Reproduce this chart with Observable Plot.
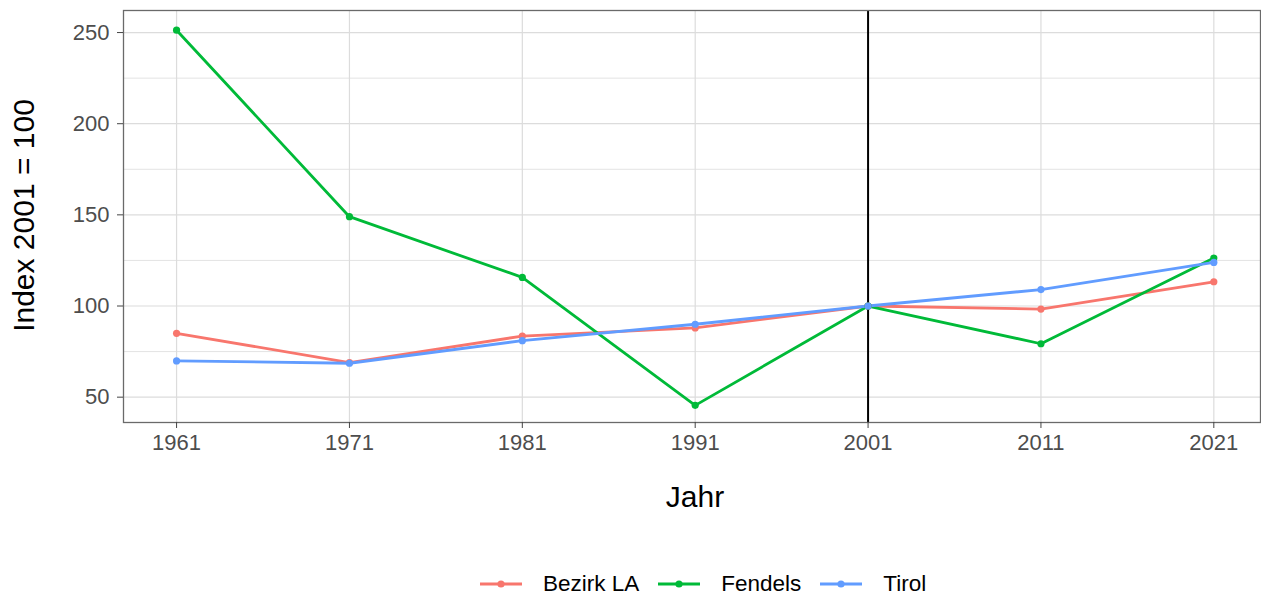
<!DOCTYPE html>
<html>
<head>
<meta charset="utf-8">
<script src="https://cdn.jsdelivr.net/npm/d3@7"></script>
<script src="https://cdn.jsdelivr.net/npm/@observablehq/plot@0.6"></script>
<style>
  html, body { margin: 0; padding: 0; background: #fff; }
  body { position: relative; width: 1261px; height: 596px; overflow: hidden; font-family: "Liberation Sans", Arial, sans-serif; }
  #legend { position: absolute; left: 480px; top: 571px; height: 26px; display: flex; align-items: center; font-size: 22.5px; color: #000; }
  .item { display: flex; align-items: center; margin-right: 19px; }
  .item svg { margin-right: 21px; }
</style>
</head>
<body>
<div id="chart"></div>
<div id="legend"></div>
<script>
const years = [1961, 1971, 1981, 1991, 2001, 2011, 2021];
const seriesNames = ["Bezirk LA", "Fendels", "Tirol"];
const bezirkLA = [85.0, 69.0, 83.5, 88.0, 100, 98.3, 113.3];
const fendels = [251.3, 149.0, 115.7, 45.5, 100, 79.3, 126.3];
const tirol = [69.9, 68.6, 81.0, 90.0, 100, 109.0, 123.9];
const colors = ["#F8766D", "#00BA38", "#619CFF"];
const majorY = [50, 100, 150, 200, 250];
const minorY = [75, 125, 175, 225];
const refYear = [2001];

const values = [bezirkLA, fendels, tirol];
const data = [];
seriesNames.forEach((s, i) => years.forEach((y, j) => data.push({series: s, year: y, value: values[i][j]})));

const font = "Liberation Sans, Arial, sans-serif";
const chart = Plot.plot({
  width: 1261,
  height: 566,
  marginLeft: 123,
  marginRight: 1,
  marginTop: 10,
  marginBottom: 144,
  style: {fontFamily: font, background: "#fff"},
  x: {domain: [1957.93, 2023.7]},
  y: {domain: [36.1, 262.1]},
  color: {domain: seriesNames, range: colors},
  marks: [
    Plot.ruleY(minorY, {stroke: "#e3e3e3", strokeWidth: 1}),
    Plot.ruleY(majorY, {stroke: "#dcdcdc", strokeWidth: 1.2}),
    Plot.ruleX(years, {stroke: "#dcdcdc", strokeWidth: 1.2}),
    Plot.ruleX(refYear, {stroke: "#000", strokeWidth: 2}),
    Plot.line(data, {x: "year", y: "value", z: "series", stroke: "series", strokeWidth: 2.8}),
    Plot.dot(data, {x: "year", y: "value", fill: "series", r: 3.6, stroke: null}),
    Plot.frame({stroke: "#6a6a6a", strokeWidth: 1.3}),
    Plot.axisX({ticks: years, tickFormat: d => String(d), label: null, fontSize: 22, tickSize: 6, tickPadding: 6, stroke: "#444", color: "#4d4d4d"}),
    Plot.axisY({ticks: majorY, label: null, fontSize: 22, tickSize: 6, tickPadding: 8, stroke: "#444", color: "#4d4d4d"}),
    Plot.text(["Jahr"], {frameAnchor: "bottom", textAnchor: "middle", lineAnchor: "middle", dx: 3, dy: 75, fontSize: 30, fill: "#000"}),
    Plot.text(["Index 2001 = 100"], {frameAnchor: "left", textAnchor: "middle", lineAnchor: "middle", dx: -99, dy: -1, rotate: -90, fontSize: 30, fill: "#000"})
  ]
});
document.getElementById("chart").appendChild(chart);

const legend = document.getElementById("legend");
seriesNames.forEach((s, i) => {
  const item = document.createElement("div");
  item.className = "item";
  item.innerHTML = `<svg width="42" height="20"><line x1="0" x2="42" y1="10" y2="10" stroke="${colors[i]}" stroke-width="2.8"/><circle cx="21" cy="10" r="3.6" fill="${colors[i]}"/></svg><span>${s}</span>`;
  legend.appendChild(item);
});
</script>
</body>
</html>
